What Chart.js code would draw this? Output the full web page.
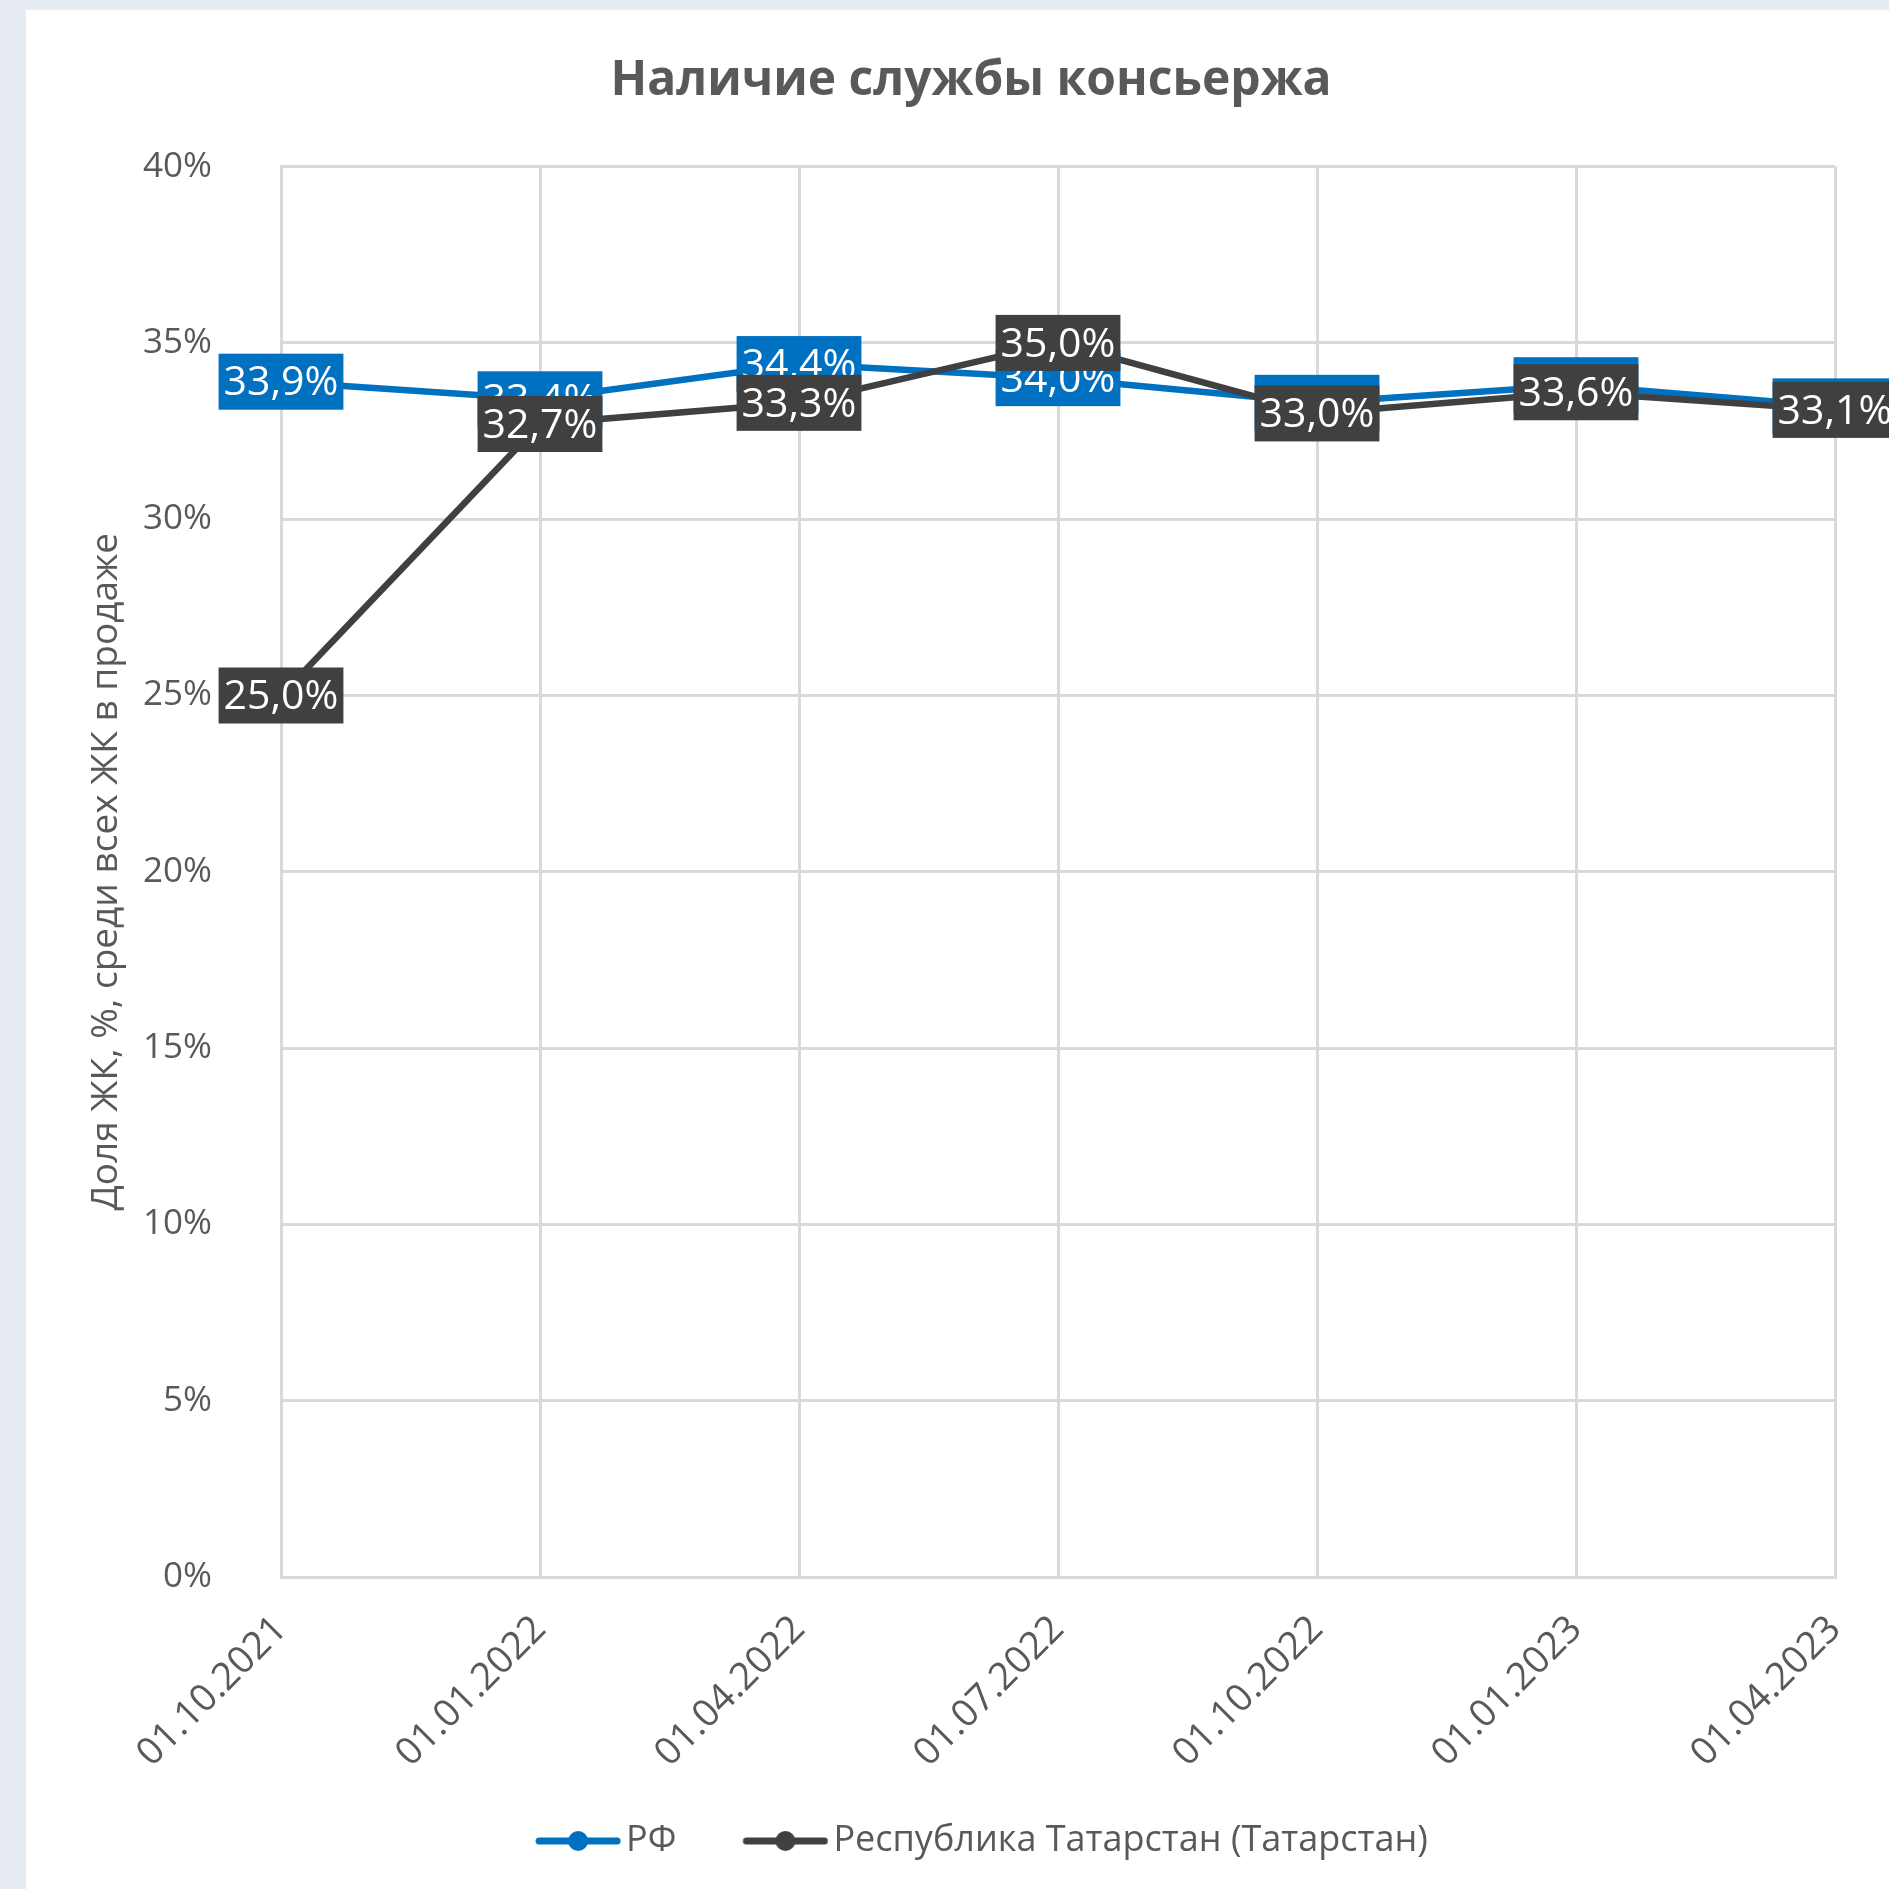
<!DOCTYPE html>
<html>
<head>
<meta charset="utf-8">
<script src="https://cdn.jsdelivr.net/npm/chart.js@4.4.0/dist/chart.umd.min.js"></script>
<style>
    html, body { margin: 0; padding: 0; background: #e7ebf3; }
    #card { position: absolute; left: 26px; top: 10px; width: 1863px; height: 1879px; background: #ffffff; }
    canvas { display: block; }
</style>
</head>
<body>
<div id="card"><canvas id="conciergeChart" width="1863" height="1879"></canvas></div>
<script>
const dates = ['01.10.2021', '01.01.2022', '01.04.2022', '01.07.2022', '01.10.2022', '01.01.2023', '01.04.2023'];
const rfValues = [33.9, 33.4, 34.4, 34.0, 33.3, 33.8, 33.2];
const tatarstanValues = [25.0, 32.7, 33.3, 35.0, 33.0, 33.6, 33.1];
const seriesNames = ['РФ', 'Республика Татарстан (Татарстан)'];
const chartTitle = 'Наличие службы консьержа';
const yAxisTitle = 'Доля ЖК, %, среди всех ЖК в продаже';

const FONT = '"Open Sans", "Noto Sans", sans-serif';
const TEXT_COLOR = '#595959';
const GRID_COLOR = '#d9d9d9';
const RF_COLOR = '#0070c0';
const TAT_COLOR = '#404040';

// legend marker: line with a dot, drawn at the right end of a wider canvas
// so the legend box leaves a gap before each entry
function legendMarker(color) {
    const c = document.createElement('canvas');
    c.width = 120;
    c.height = 30;
    const g = c.getContext('2d');
    g.strokeStyle = color;
    g.lineWidth = 7;
    g.lineCap = 'round';
    g.beginPath();
    g.moveTo(38, 15);
    g.lineTo(116, 15);
    g.stroke();
    g.fillStyle = color;
    g.beginPath();
    g.arc(77, 15, 10, 0, Math.PI * 2);
    g.fill();
    return c;
}
const markers = [legendMarker(RF_COLOR), legendMarker(TAT_COLOR)];

// boxed value labels, drawn after lines (РФ first, Татарстан on top)
const valueLabels = {
    id: 'valueLabels',
    afterDatasetsDraw(chart) {
        const ctx = chart.ctx;
        ctx.save();
        ctx.font = `41px ${FONT}`;
        ctx.textAlign = 'center';
        ctx.textBaseline = 'middle';
        chart.data.datasets.forEach((ds, i) => {
            const meta = chart.getDatasetMeta(i);
            meta.data.forEach((pt, j) => {
                const text = ds.data[j].toFixed(1).replace('.', ',') + '%';
                const w = ctx.measureText(text).width + 10;
                const h = 56;
                ctx.fillStyle = ds.borderColor;
                ctx.fillRect(pt.x - w / 2, pt.y - h / 2, w, h);
                ctx.fillStyle = '#ffffff';
                ctx.fillText(text, pt.x, pt.y + 2);
            });
        });
        ctx.restore();
    },
};

const ctx = document.getElementById('conciergeChart').getContext('2d');
new Chart(ctx, {
    type: 'line',
    data: {
        labels: dates,
        datasets: [{
            label: seriesNames[0],
            data: rfValues,
            borderColor: RF_COLOR,
            backgroundColor: RF_COLOR,
            borderWidth: 6.5,
            pointRadius: 6,
            tension: 0,
            order: 2,
        }, {
            label: seriesNames[1],
            data: tatarstanValues,
            borderColor: TAT_COLOR,
            backgroundColor: TAT_COLOR,
            borderWidth: 6.5,
            pointRadius: 6,
            tension: 0,
            order: 1,
        }],
    },
    options: {
        responsive: false,
        devicePixelRatio: 1,
        animation: false,
        layout: { padding: { left: 81, right: 54, top: 0, bottom: 20 } },
        plugins: {
            title: {
                display: true,
                text: chartTitle,
                color: TEXT_COLOR,
                font: { family: FONT, size: 48, weight: 'bold' },
                padding: { top: 43, bottom: 56 },
            },
            legend: {
                position: 'bottom',
                labels: {
                    usePointStyle: true,
                    pointStyleWidth: 94,
                    color: TEXT_COLOR,
                    font: { family: FONT, size: 36 },
                    padding: 45,
                    sort: (a, b) => a.datasetIndex - b.datasetIndex,
                    generateLabels(chart) {
                        const items = Chart.defaults.plugins.legend.labels.generateLabels(chart);
                        items.forEach((item) => { item.pointStyle = markers[item.datasetIndex]; });
                        return items;
                    },
                },
            },
            tooltip: { enabled: false },
        },
        scales: {
            x: {
                offset: false,
                grid: { color: GRID_COLOR, lineWidth: 3, drawTicks: false, offset: false },
                border: { color: GRID_COLOR, width: 3 },
                ticks: {
                    autoSkip: false,
                    maxRotation: 45,
                    minRotation: 45,
                    padding: 30,
                    color: TEXT_COLOR,
                    font: { family: FONT, size: 38 },
                },
                afterFit(scale) {
                    scale.height = 201;
                    scale.paddingLeft = 0;
                    scale.paddingRight = 0;
                },
            },
            y: {
                min: 0,
                max: 40,
                grid: { color: GRID_COLOR, lineWidth: 3, drawTicks: false },
                border: { color: GRID_COLOR, width: 3 },
                ticks: {
                    stepSize: 5,
                    padding: 69,
                    color: TEXT_COLOR,
                    font: { family: FONT, size: 35 },
                    callback: (value) => `${value}%`,
                },
                title: {
                    display: true,
                    text: yAxisTitle,
                    color: TEXT_COLOR,
                    font: { family: FONT, size: 37 },
                    padding: { top: -23, bottom: 0 },
                },
                afterFit(scale) { scale.width = 174; },
            },
        },
    },
    plugins: [valueLabels],
});
</script>
</body>
</html>
